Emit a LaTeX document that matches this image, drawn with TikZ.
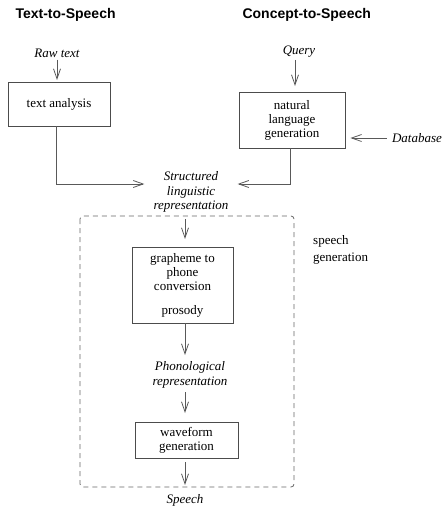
\documentclass[tikz,border=0pt]{standalone}
\usepackage{fontspec}
\setmainfont{Liberation Serif}
\setsansfont{Liberation Sans}
\usetikzlibrary{arrows.meta}

\begin{document}
\begin{tikzpicture}[
    x=1pt, y=-1pt,
    font=\fontsize{13}{14}\selectfont\rmfamily,
    header/.style={anchor=west, font=\fontsize{14}{16}\selectfont\sffamily\bfseries},
    data/.style={align=center, inner sep=2pt, font=\fontsize{13}{14.5}\selectfont\rmfamily\itshape},
    box/.style={rectangle, draw=black!70, line width=0.8pt, align=center, inner sep=2pt},
    arrow/.style={draw=black!65, line width=0.8pt, -{Straight Barb[length=10pt, width=7pt]}}
]
\useasboundingbox (0,0) rectangle (444,506);

% Nodes
\node[header] (tts) at (12,15) {Text-to-Speech};
\node[header] (cts) at (239,15) {Concept-to-Speech};

\node[data] (raw) at (57,53) {Raw text};
\node[box, minimum width=102pt, minimum height=44pt] (analysis) at (59,104) {text analysis};

\node[data] (query) at (299,52) {Query};
\node[box, minimum width=106pt, minimum height=56pt] (nlg) at (292,120) {%
  natural\\ language\\ generation};
\node[data] (database) at (417,138) {Database};

\node[data] (structured) at (191,192) {Structured\\ linguistic\\ representation};

\node[box, minimum width=101pt, minimum height=76pt] (grapheme) at (182.5,285) {%
  grapheme to\\ phone\\ conversion\\[10pt] prosody};
\node[data] (phonological) at (190,375) {Phonological\\ representation};
\node[box, minimum width=103pt, minimum height=36pt] (waveform) at (186.5,440) {%
  waveform\\ generation};
\node[data] (speech) at (185,500) {Speech};

\node[anchor=north west, align=left, inner sep=0pt] (speechgen) at (313,235) {%
  speech\\[3pt] generation};

% Dashed frame
\draw[draw=black!60, line width=0.8pt, dashed, dash pattern=on 5pt off 4pt, rounded corners=3pt]
  (80,216) rectangle (294,487);

% Arrows
\draw[arrow] (raw.south -| 57,0) -- (57,80);
\draw[arrow] ([xshift=-3pt]analysis.south) |- ([xshift=-7pt, yshift=8pt]structured.west);
\draw[arrow] (query.south -| 295,0) -- (295,86);
\draw[arrow] ([xshift=-3pt]database.west) -- ([xshift=5pt]nlg.east |- database.west);
\draw[arrow] ([xshift=-2pt]nlg.south) |- ([xshift=7pt, yshift=8pt]structured.east);
\draw[arrow] (185,219) -- (185,239);
\draw[arrow] (grapheme.south -| 185,0) -- (185,355);
\draw[arrow] (185,392) -- (185,413);
\draw[arrow] (185,462) -- (185,485);

\end{tikzpicture}
\end{document}
